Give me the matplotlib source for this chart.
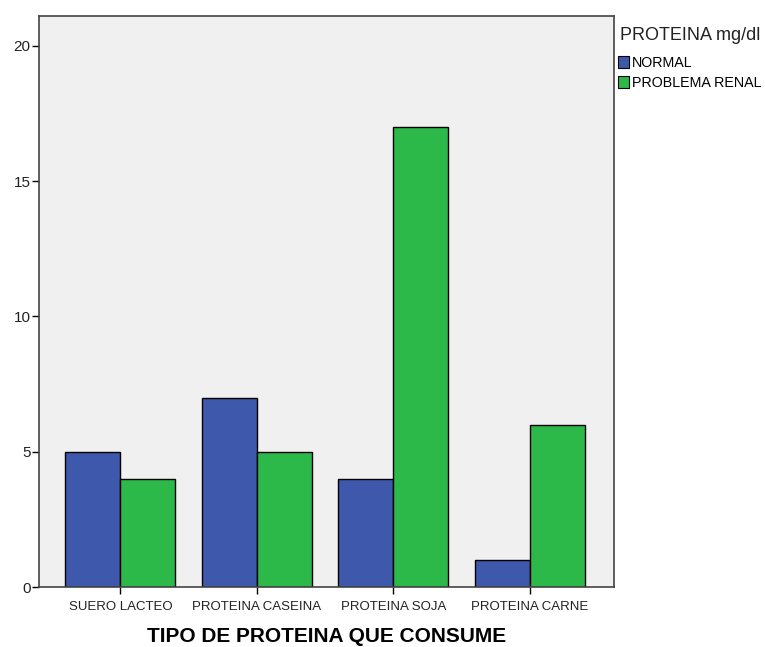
import matplotlib
matplotlib.use("Agg")
import matplotlib.pyplot as plt
import numpy as np
from matplotlib.patches import Patch

categories = ["SUERO LACTEO", "PROTEINA CASEINA", "PROTEINA SOJA", "PROTEINA CARNE"]
normal = [5, 7, 4, 1]
renal = [4, 5, 17, 6]
series_names = ["NORMAL", "PROBLEMA RENAL"]

BLUE = "#3e58ac"
GREEN = "#2db84a"

plt.rcParams["font.family"] = ["Liberation Sans", "DejaVu Sans"]

fig = plt.figure(figsize=(7.65, 6.47), dpi=100)
ax = fig.add_axes([0.051, 0.0927, 0.7516, 0.8826])
ax.set_facecolor("#f0f0f0")

x = np.arange(len(categories))
w = 0.404
ax.bar(x - w/2, normal, w, color=BLUE, edgecolor="black", linewidth=1.0)
ax.bar(x + w/2, renal, w, color=GREEN, edgecolor="black", linewidth=1.0)

ax.set_xlim(-0.596, 3.618)
ax.set_ylim(0, 21.1)
ax.set_yticks([0, 5, 10, 15, 20])
ax.set_xticks(x)
ax.set_xticklabels(categories, fontsize=9.5, color="#222222")
ax.tick_params(axis="y", labelsize=11, labelcolor="#222222", length=5, width=1, direction="out", pad=1)
ax.tick_params(axis="x", length=5, width=1, direction="out", pad=5)
for s in ax.spines.values():
    s.set_color("#444444")
    s.set_linewidth(1.2)

ax.set_xlabel("TIPO DE PROTEINA QUE CONSUME", fontsize=15, fontweight="bold", labelpad=10)

# legend title placed separately, SPSS style
fig.text(0.810, 1 - 35/647, "PROTEINA mg/dl", fontsize=13, color="#222222", va="center", ha="left")
handles = [Patch(facecolor=BLUE, edgecolor="black", linewidth=0.8),
           Patch(facecolor=GREEN, edgecolor="black", linewidth=0.8)]
leg = fig.legend(handles, series_names, loc="upper left", bbox_to_anchor=(0.804, 1 - 53/647),
                 frameon=False, fontsize=10.3,
                 handlelength=0.75, handleheight=0.9, handletextpad=0.2,
                 labelspacing=0.4, borderaxespad=0, borderpad=0.2)

fig.savefig("out.png", dpi=100)
